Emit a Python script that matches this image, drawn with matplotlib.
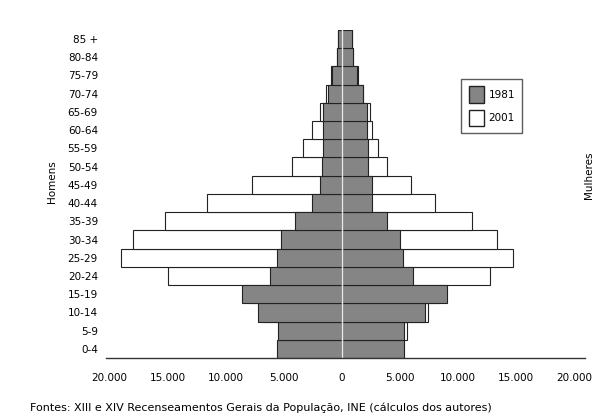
import matplotlib.pyplot as plt
from matplotlib.patches import Patch

# Age groups, bottom to top
ages = ["0-4", "5-9", "10-14", "15-19", "20-24", "25-29", "30-34", "35-39", "40-44",
        "45-49", "50-54", "55-59", "60-64", "65-69", "70-74", "75-79", "80-84", "85 +"]

# Men (left side)
men_1981 = [5600, 5500, 7200, 8600, 6200, 5600, 5200, 4000, 2600,
            1900, 1700, 1650, 1650, 1650, 1200, 800, 450, 350]
men_2001 = [3800, 5300, 6800, 8000, 15000, 19000, 18000, 15200, 11600,
            7700, 4300, 3350, 2600, 1900, 1400, 900, 450, 350]

# Women (right side)
women_1981 = [5400, 5400, 7150, 9100, 6100, 5250, 5000, 3900, 2600,
              2650, 2250, 2250, 2200, 2150, 1800, 1350, 950, 850]
women_2001 = [3900, 5600, 7400, 8500, 12800, 14800, 13400, 11200, 8000,
              5950, 3900, 3100, 2600, 2400, 1850, 1400, 1000, 850]

xticks = [-20000, -15000, -10000, -5000, 0, 5000, 10000, 15000, 20000]
xtick_labels = ["20.000", "15.000", "10.000", "5.000", "0", "5.000", "10.000", "15.000", "20.000"]

gray = "#858585"
edge = "#222222"
fs = 7.5

fig = plt.figure(figsize=(5.97, 4.18), dpi=100)
ax = fig.add_axes([0.178, 0.1435, 0.8025, 0.785])

y = range(len(ages))
# 2001 behind, 1981 in front
ax.barh(y, [-v for v in men_2001], height=1.0, color="white", edgecolor=edge, linewidth=0.8)
ax.barh(y, women_2001, height=1.0, color="white", edgecolor=edge, linewidth=0.8)
ax.barh(y, [-v for v in men_1981], height=1.0, color=gray, edgecolor=edge, linewidth=0.8)
ax.barh(y, women_1981, height=1.0, color=gray, edgecolor=edge, linewidth=0.8)
ax.plot([0, 0], [-0.5, len(ages) - 0.5], color="#e8e8e8", linewidth=1.0)

ax.set_xlim(-20300, 21000)
ax.set_ylim(-0.5, len(ages) - 0.5)
ax.set_yticks(list(y))
ax.set_yticklabels(ages, fontsize=fs)
ax.set_xticks(xticks)
ax.set_xticklabels(xtick_labels, fontsize=fs)
ax.tick_params(axis="both", length=0)
ax.tick_params(axis="x", pad=11)
ax.tick_params(axis="y", pad=6)

for s in ["top", "right", "left"]:
    ax.spines[s].set_visible(False)
ax.spines["bottom"].set_color("#333333")
ax.spines["bottom"].set_linewidth(1.0)

fig.text(0.087, 0.565, "Homens", rotation=90, fontsize=fs, ha="center", va="center")
fig.text(0.986, 0.58, "Mulheres", rotation=90, fontsize=fs, ha="center", va="center")

handles = [Patch(facecolor=gray, edgecolor=edge, label="1981"),
           Patch(facecolor="white", edgecolor=edge, label="2001")]
fig.legend(handles=handles, loc="upper left", bbox_to_anchor=(0.764, 0.823),
           fontsize=fs, frameon=True, fancybox=False, shadow=False, edgecolor="#333333",
           handlelength=1.5, handleheight=2.0, labelspacing=0.7, borderpad=0.7,
           handletextpad=0.4)

fig.text(0.05, 0.025, "Fontes: XIII e XIV Recenseamentos Gerais da População, INE (cálculos dos autores)",
         fontsize=8, ha="left", va="center")

fig.savefig("out.png", dpi=100)
